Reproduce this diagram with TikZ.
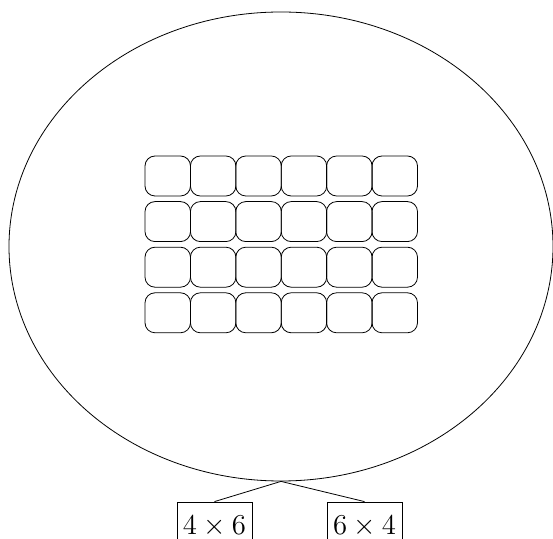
\documentclass[tikz,border=0pt]{standalone}
\usetikzlibrary{shapes.geometric}

\begin{document}
\begin{tikzpicture}[
        x=0.5pt, y=-0.5pt,
        cell/.style={
            draw,
            rounded corners=5pt,
            minimum width=22.75pt,
            minimum height=20pt,
            inner sep=0pt
        },
        dimbox/.style={
            draw,
            text width=31.5pt,
            minimum height=24pt,
            inner ysep=0pt,
            inner xsep=3pt,
            align=left,
            font=\fontsize{13.5}{16}\selectfont
        },
        line/.style={thin}
    ]

        \useasboundingbox (0,0) rectangle (553,539);

        % velka elipsa
        \node[draw, ellipse, minimum width=272pt, minimum height=234.5pt, inner sep=0pt] (elipsa) at (281,246.5) {};

        % mrizka 6 x 4
        \foreach \i in {0,...,5}
            \foreach \j in {0,...,3}
                \node[cell] (c-\i-\j) at (167.75+45.4*\i, 176+45.6*\j) {};

        % rozmery
        \node[dimbox] (ctyrisest) at (214.5,526) {$4\times6$};
        \node[dimbox] (sestctyri) at (364.5,526) {$6\times4$};

        % spojnice
        \draw[line] (elipsa.south) -- (ctyrisest.north);
        \draw[line] (elipsa.south) -- (sestctyri.north);

    \end{tikzpicture}
\end{document}
